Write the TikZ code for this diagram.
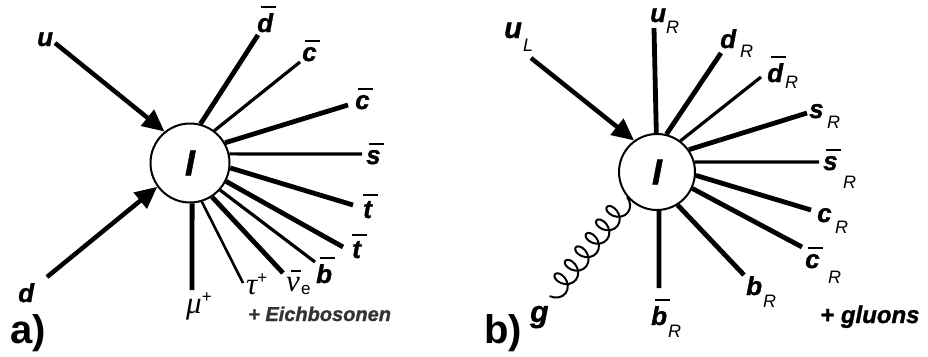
\documentclass[tikz,border=0pt]{standalone}
\usepackage{fontspec}
\setmainfont{Liberation Sans}
\newfontfamily\heavy{Liberation Sans}[BoldItalicFeatures={FakeBold=1.2}]
\newfontfamily\grk{Liberation Serif}
\usetikzlibrary{arrows.meta,decorations.pathmorphing}
\newcommand\ov[2][15pt]{\setbox0\hbox{#2}\vbox{\offinterlineskip\hbox{\kern\dimexpr(\wd0-#1)/2+3pt\relax\vrule height 2pt depth 0pt width #1}\kern5pt\box0}}
\newcommand\gr[1]{{\fontsize{31}{31}\grk\mdseries\itshape #1}}
\newcommand\sups[1]{\raisebox{11pt}{\fontsize{17}{17}\selectfont\mdseries\upshape #1}}
\tikzset{
 lbl/.style={anchor=base west, inner sep=0pt, font=\fontsize{26}{26}\heavy\bfseries\itshape},
 sublbl/.style={anchor=base west, inner sep=0pt, font=\fontsize{18}{18}\selectfont\itshape},
 thk/.style={line width=4.8pt},
 thn/.style={line width=3.2pt},
 vtx/.style={circle, draw, line width=2pt, fill=white, inner sep=0pt, font=\fontsize{36}{36}\heavy\bfseries\itshape},
 arr/.style={line width=4.5pt, -{Triangle[length=22pt,width=20pt]}},
 gluon/.style={decorate, decoration={coil, amplitude=10pt, segment length=17pt, aspect=0.75}, line width=2pt},
 panel/.style={anchor=base west, inner sep=0pt, font=\fontsize{40}{40}\selectfont\bfseries},
 extra/.style={anchor=base west, inner sep=0pt},
}
\begin{document}
\begin{tikzpicture}[x=1pt,y=-1pt]
\useasboundingbox (0,0) rectangle (928,356);
% ---------- panel a ----------
\node[vtx, minimum size=79pt] (A) at (190,163) {I};
\coordinate (ua) at (55,43);
\coordinate (da) at (47,277);
\draw[arr] (ua) -- (A.129);
\draw[arr] (da) -- (A.216);
\coordinate (a1) at (258,35);
\coordinate (a2) at (300,62);
\coordinate (a3) at (348,105);
\coordinate (a4) at (362,154);
\coordinate (a5) at (353,205);
\coordinate (a6) at (343,247);
\coordinate (a7) at (315,262);
\coordinate (a8) at (283,273);
\coordinate (a9) at (243,283);
\coordinate (a10) at (192,290);
\draw[thk] (A.75) -- (a1);
\draw[thn] (A.53) -- (a2);
\draw[thk] (A.30) -- (a3);
\draw[thn] (A.13) -- (a4);
\draw[thk] (A.-7) -- (a5);
\draw[thk] (A.-27) -- (a6);
\draw[thn] (A.-42) -- (a7);
\draw[thk] (A.-57) -- (a8);
\draw[line width=2.6pt] (A.-73) -- (a9);
\draw[thk] (A.-87) -- (a10);
\node[lbl] (lu) at (37,46) {u};
\node[lbl] (ld) at (18,302) {d};
\node[lbl] (l1) at (257,32) {\ov{d}};
\node[lbl] (l2) at (302,61) {\ov{c}};
\node[lbl] (l3) at (355,109) {\ov{c}};
\node[lbl] (l4) at (366,164) {\ov{s}};
\node[lbl] (l5) at (363,218) {\ov{t}};
\node[lbl] (l6) at (352,258) {\ov{t}};
\node[lbl] (l7) at (316,283) {\ov{b}};
\node[lbl] (l8) at (286,291) {\ov[10pt]{\gr{ν}}{\fontsize{17}{17}\selectfont\mdseries\upshape\raisebox{-3pt}{e}}};
\node[lbl] (l9) at (246,294) {\gr{τ}\sups{+}};
\node[lbl] (l10) at (186,313) {\gr{μ}\sups{+}};
\node[extra, text=black!80, font=\fontsize{20}{20}\heavy\bfseries\itshape] (eich) at (248,321) {+ Eichbosonen};
\node[panel] (pa) at (10,343) {a)};
% ---------- panel b ----------
\node[vtx, minimum size=76pt] (B) at (657,172) {I};
\coordinate (ub) at (531,58);
\draw[arr] (ub) -- (B.126);
\coordinate (gb) at (550,297);
\draw[gluon] (B.-140) -- (gb);
\coordinate (b1) at (654,28);
\coordinate (b2) at (721,53);
\coordinate (b3) at (761,77);
\coordinate (b4) at (807,113);
\coordinate (b5) at (819,162);
\coordinate (b6) at (811,210);
\coordinate (b7) at (802,247);
\coordinate (b8) at (744,275);
\coordinate (b9) at (659,288);
\draw[thk] (B.91) -- (b1);
\draw[thk] (B.76) -- (b2);
\draw[thn] (B.53) -- (b3);
\draw[thk] (B.35) -- (b4);
\draw[thn] (B.15) -- (b5);
\draw[thk] (B.-5) -- (b6);
\draw[thk] (B.-25) -- (b7);
\draw[thk] (B.-58) -- (b8);
\draw[thk] (B.-87) -- (b9);
\node[lbl, font=\fontsize{29}{29}\heavy\bfseries\itshape] (luL) at (504,38) {u};
\node[sublbl] (luLs) at (523,51) {L};
\node[lbl] (m1) at (650,22) {u};
\node[sublbl] (m1s) at (666,33) {R};
\node[lbl] (m2) at (720,48) {d};
\node[sublbl] (m2s) at (740,57) {R};
\node[lbl] (m3) at (767,82) {\ov{d}};
\node[sublbl] (m3s) at (785,88) {R};
\node[lbl] (m4) at (809,118) {s};
\node[sublbl] (m4s) at (827,128) {R};
\node[lbl] (m5) at (823,170) {\ov{s}};
\node[sublbl] (m5s) at (843,188) {R};
\node[lbl] (m6) at (817,222) {c};
\node[sublbl] (m6s) at (835,233) {R};
\node[lbl] (m7) at (805,268) {\ov{c}};
\node[sublbl] (m7s) at (828,283) {R};
\node[lbl] (m8) at (746,295) {b};
\node[sublbl] (m8s) at (763,307) {R};
\node[lbl] (m9) at (651,325) {\ov{b}};
\node[sublbl] (m9s) at (668,337) {R};
\node[lbl, font=\fontsize{30}{30}\heavy\bfseries\itshape] (lg) at (530,322) {g};
\node[extra, font=\fontsize{24}{24}\heavy\bfseries\itshape] (glu) at (820,323) {+ gluons};
\node[panel] (pb) at (484,343) {b)};
\end{tikzpicture}
\end{document}
